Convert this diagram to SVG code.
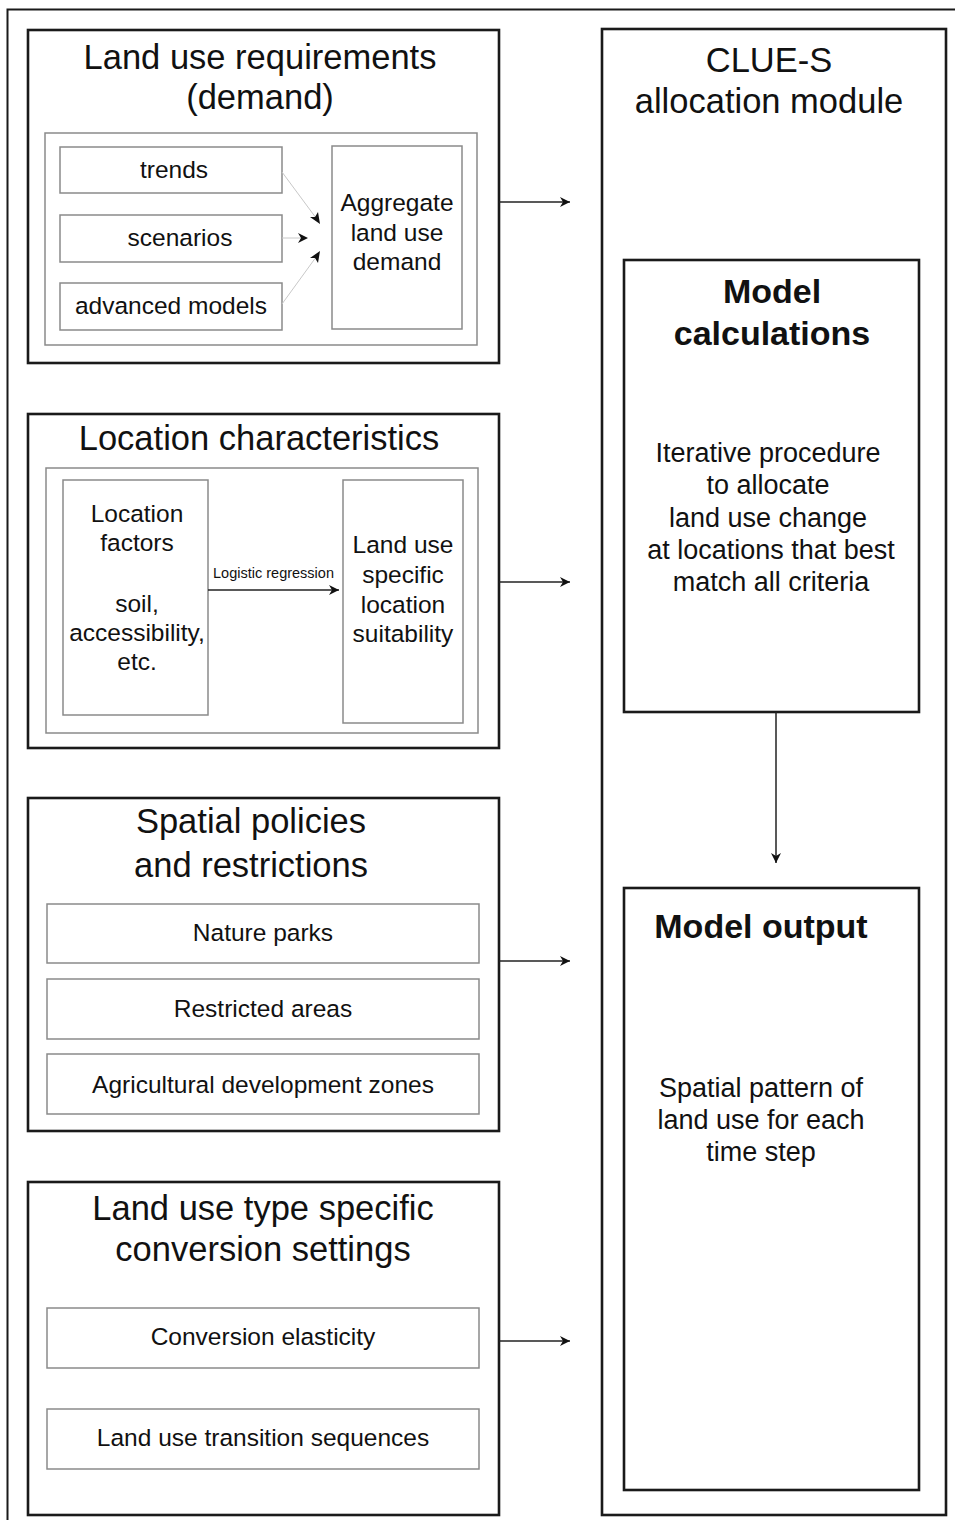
<svg xmlns="http://www.w3.org/2000/svg" width="955" height="1520" viewBox="0 0 955 1520">
<defs>
<style>
text{font-family:"Liberation Sans",Arial,Helvetica,sans-serif;fill:#111;text-anchor:middle}
.t{font-size:34.5px}
.s{font-size:24.5px}
.b{font-size:34px;font-weight:bold}
.m{font-size:27px}
.x{font-size:14.5px}
.main{fill:none;stroke:#1a1a1a;stroke-width:2.6}
.in{fill:#fff;stroke:#8a8a8a;stroke-width:1.5}
.ln{fill:none;stroke:#222;stroke-width:1.5}
.lt{fill:none;stroke:#c8c8c8;stroke-width:1}
</style>
<marker id="ah" viewBox="0 0 10 10" refX="10" refY="5" markerWidth="10" markerHeight="10" markerUnits="userSpaceOnUse" orient="auto">
<path d="M0,0 L10,5 L0,10 L3,5 z" fill="#111"/>
</marker>
<marker id="ahs" viewBox="0 0 10 10" refX="10" refY="5" markerWidth="9" markerHeight="9" markerUnits="userSpaceOnUse" orient="auto">
<path d="M0,0 L10,5 L0,10 L3,5 z" fill="#111"/>
</marker>
</defs>
<rect width="955" height="1520" fill="#fff"/>
<g id="frame">
<path d="M955,9.5 H7.5 V1520" fill="none" stroke="#1a1a1a" stroke-width="2"/>
</g>
<g id="demand">
<rect class="main" x="28" y="30" width="471" height="333"/>
<text class="t" x="260" y="69">Land use requirements</text>
<text class="t" x="260" y="109">(demand)</text>
<rect class="in" x="45" y="133" width="432" height="212"/>
</g>
<g id="trends"><rect class="in" x="60" y="147" width="222" height="46"/><text class="s" x="174" y="178">trends</text></g>
<g id="scenarios"><rect class="in" x="60" y="215" width="222" height="47"/><text class="s" x="180" y="246">scenarios</text></g>
<g id="advanced"><rect class="in" x="60" y="283" width="222" height="47"/><text class="s" x="171" y="314">advanced models</text></g>
<g id="aggregate"><rect class="in" x="332" y="146" width="130" height="183"/>
<text class="s" x="397" y="211">Aggregate</text><text class="s" x="397" y="241">land use</text><text class="s" x="397" y="270">demand</text></g>
<g id="location">
<rect class="main" x="28" y="414" width="471" height="334"/>
<text class="t" x="259" y="450">Location characteristics</text>
<rect class="in" x="46" y="468" width="432" height="265"/>
</g>
<g id="factors"><rect class="in" x="63" y="480" width="145" height="235"/>
<text class="s" x="137" y="522">Location</text><text class="s" x="137" y="551">factors</text>
<text class="s" x="137" y="612">soil,</text><text class="s" x="137" y="641">accessibility,</text><text class="s" x="137" y="670">etc.</text></g>
<g id="suitability"><rect class="in" x="343" y="480" width="120" height="243"/>
<text class="s" x="403" y="553">Land use</text><text class="s" x="403" y="583">specific</text><text class="s" x="403" y="613">location</text><text class="s" x="403" y="642">suitability</text></g>
<g id="policies">
<rect class="main" x="28" y="798" width="471" height="333"/>
<text class="t" x="251" y="833">Spatial policies</text>
<text class="t" x="251" y="877">and restrictions</text>
</g>
<g id="parks"><rect class="in" x="47" y="904" width="432" height="59"/><text class="s" x="263" y="941">Nature parks</text></g>
<g id="restricted"><rect class="in" x="47" y="979" width="432" height="60"/><text class="s" x="263" y="1017">Restricted areas</text></g>
<g id="agri"><rect class="in" x="47" y="1054" width="432" height="60"/><text class="s" x="263" y="1093">Agricultural development zones</text></g>
<g id="conversion">
<rect class="main" x="28" y="1182" width="471" height="333"/>
<text class="t" x="263" y="1220">Land use type specific</text>
<text class="t" x="263" y="1261">conversion settings</text>
</g>
<g id="elasticity"><rect class="in" x="47" y="1308" width="432" height="60"/><text class="s" x="263" y="1345">Conversion elasticity</text></g>
<g id="sequences"><rect class="in" x="47" y="1409" width="432" height="60"/><text class="s" x="263" y="1446">Land use transition sequences</text></g>
<g id="clues">
<rect class="main" x="602" y="29" width="344" height="1486"/>
<text class="t" x="769" y="72">CLUE-S</text>
<text class="t" x="769" y="113">allocation module</text>
</g>
<g id="calculations">
<rect class="main" x="624" y="260" width="295" height="452"/>
<text class="b" x="772" y="303">Model</text>
<text class="b" x="772" y="345">calculations</text>
<text class="m" x="768" y="462">Iterative procedure</text>
<text class="m" x="768" y="494">to allocate</text>
<text class="m" x="768" y="527">land use change</text>
<text class="m" x="771" y="559">at locations that best</text>
<text class="m" x="771" y="591">match all criteria</text>
</g>
<g id="output">
<rect class="main" x="624" y="888" width="295" height="602"/>
<text class="b" x="761" y="938">Model output</text>
<text class="m" x="761" y="1097">Spatial pattern of</text>
<text class="m" x="761" y="1129">land use for each</text>
<text class="m" x="761" y="1161">time step</text>
</g>
<g id="connectors">
<line class="lt" x1="282" y1="172" x2="319" y2="222"/>
<path d="M310,217 L320,224 L318,212 L315,217 z" fill="#111"/>
<line class="lt" x1="282" y1="238" x2="304" y2="238"/>
<path d="M298,233 L308,238 L298,243 L301,238 z" fill="#111"/>
<line class="lt" x1="282" y1="304" x2="319" y2="253"/>
<path d="M310,258 L320,251 L318,263 L315,258 z" fill="#111"/>
<line class="ln" x1="499" y1="202" x2="570" y2="202" marker-end="url(#ah)"/>
<line class="ln" x1="208" y1="590" x2="339" y2="590" marker-end="url(#ah)" stroke-width="1.8"/>
<text class="x" x="273.5" y="578">Logistic regression</text>
<line class="ln" x1="499" y1="582" x2="570" y2="582" marker-end="url(#ah)"/>
<line class="ln" x1="499" y1="961" x2="570" y2="961" marker-end="url(#ah)"/>
<line class="ln" x1="499" y1="1341" x2="570" y2="1341" marker-end="url(#ah)"/>
<line class="ln" x1="776" y1="712" x2="776" y2="863" marker-end="url(#ah)"/>
</g>
</svg>
